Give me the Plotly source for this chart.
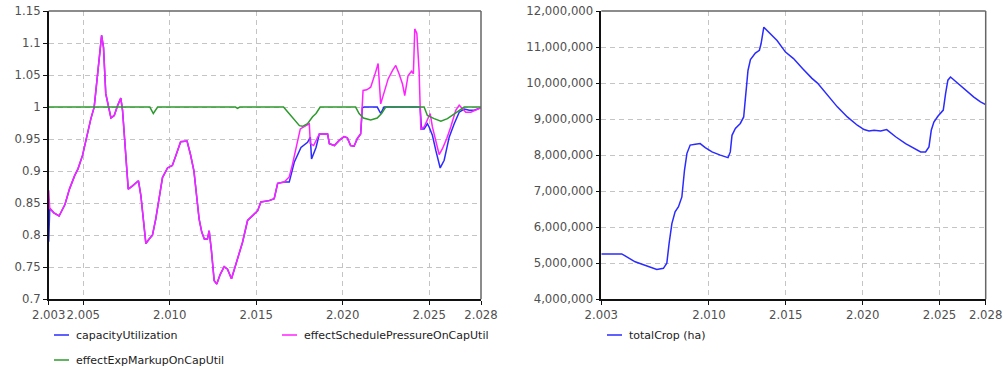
import plotly.graph_objects as go
from plotly.subplots import make_subplots

# --- data ---
# capacityUtilization and effectSchedulePressureOnCapUtil run together until ~2016.6
common_years = [2003.06, 2003.3, 2003.6, 2003.94, 2004.2, 2004.5, 2004.7, 2004.96, 2005.15, 2005.44,
                2005.63, 2005.83, 2006.06, 2006.17, 2006.3, 2006.6, 2006.79, 2006.98, 2007.17, 2007.27,
                2007.46, 2007.6, 2007.85, 2008.19, 2008.33, 2008.52, 2008.62, 2008.81, 2009.0, 2009.19,
                2009.38, 2009.58, 2009.87, 2010.15, 2010.35, 2010.63, 2011.0, 2011.2, 2011.4, 2011.55,
                2011.7, 2011.85, 2012.0, 2012.18, 2012.28, 2012.41, 2012.57, 2012.72, 2012.92, 2013.15,
                2013.34, 2013.57, 2013.82, 2014.21, 2014.5, 2014.79, 2015.08, 2015.27, 2015.75, 2016.04,
                2016.24, 2016.62]
common_vals = [0.842, 0.835, 0.83, 0.848, 0.872, 0.893, 0.904, 0.925, 0.948, 0.982,
               1.0, 1.057, 1.112, 1.093, 1.021, 0.983, 0.987, 1.002, 1.014, 0.995,
               0.925, 0.872, 0.877, 0.885, 0.862, 0.81, 0.787, 0.794, 0.80, 0.825,
               0.856, 0.89, 0.905, 0.909, 0.924, 0.946, 0.947, 0.926, 0.9, 0.86,
               0.825, 0.805, 0.794, 0.794, 0.807, 0.776, 0.729, 0.724, 0.739, 0.751,
               0.747, 0.732, 0.755, 0.789, 0.823, 0.831, 0.838, 0.852, 0.854, 0.857,
               0.881, 0.883]

cap_years = [2003.0] + common_years + [
    2016.91, 2017.2, 2017.59, 2017.97, 2018.13, 2018.2, 2018.46, 2018.65, 2019.13, 2019.23,
    2019.52, 2019.8, 2020.08, 2020.27, 2020.46, 2020.66, 2020.85, 2021.04, 2021.14, 2021.24,
    2022.0, 2022.2, 2022.39, 2024.48, 2024.56, 2024.71, 2024.9, 2025.0, 2025.19, 2025.39,
    2025.64, 2025.87, 2026.16, 2026.45, 2026.74, 2027.03, 2027.32, 2027.61, 2028.0]
cap_vals = [0.79] + common_vals + [
    0.883, 0.914, 0.937, 0.945, 0.953, 0.919, 0.937, 0.958, 0.958, 0.943,
    0.94, 0.948, 0.954, 0.952, 0.94, 0.939, 0.951, 0.958, 0.999, 1.0,
    1.0, 0.99, 1.0, 1.0, 0.966, 0.966, 0.974, 0.969, 0.956, 0.932,
    0.905, 0.917, 0.953, 0.974, 0.992, 0.997, 0.995, 0.995, 0.999]

sched_years = [2003.0] + common_years + [
    2016.91, 2017.1, 2017.3, 2017.55, 2017.88, 2018.07, 2018.13, 2018.32, 2018.65, 2019.13,
    2019.23, 2019.52, 2019.8, 2020.08, 2020.27, 2020.46, 2020.66, 2020.85, 2021.04, 2021.18,
    2021.39, 2021.62, 2021.91, 2022.05, 2022.2, 2022.43, 2022.63, 2022.88, 2023.07, 2023.26,
    2023.46, 2023.59, 2023.78, 2023.98, 2024.09, 2024.17, 2024.29, 2024.42, 2024.52, 2024.71,
    2024.9, 2025.06, 2025.19, 2025.39, 2025.58, 2025.77, 2026.02, 2026.25, 2026.54, 2026.74,
    2026.93, 2027.12, 2027.41, 2027.7, 2028.0]
sched_vals = [0.87] + common_vals + [
    0.891, 0.911, 0.937, 0.966, 0.971, 0.974, 0.943, 0.94, 0.958, 0.958,
    0.943, 0.94, 0.948, 0.954, 0.952, 0.94, 0.939, 0.951, 0.958, 1.026,
    1.027, 1.031, 1.055, 1.068, 1.005, 1.026, 1.044, 1.057, 1.065, 1.052,
    1.036, 1.018, 1.049, 1.056, 1.052, 1.122, 1.115, 1.057, 0.966, 0.969,
    0.979, 0.99, 0.969, 0.948, 0.926, 0.935, 0.951, 0.969, 0.995, 1.003,
    0.997, 0.992, 0.992, 0.995, 0.999]

markup_years = [2003.0, 2008.85, 2009.05, 2009.3, 2013.8, 2013.92, 2014.05, 2016.58, 2016.9, 2017.2,
                2017.5, 2017.68, 2017.97, 2018.26, 2018.46, 2018.7, 2020.75, 2020.95, 2021.2, 2021.62,
                2022.0, 2022.25, 2022.49, 2024.71, 2024.9, 2025.29, 2025.68, 2026.06, 2026.45, 2026.83,
                2027.03, 2028.0]
markup_vals = [1.0, 1.0, 0.99, 1.0, 1.0, 0.998, 1.0, 1.0, 0.99, 0.981,
               0.971, 0.97, 0.974, 0.985, 0.99, 1.0, 1.0, 0.99, 0.983, 0.98,
               0.983, 0.99, 1.0, 1.0, 0.987, 0.982, 0.978, 0.982, 0.989, 0.996,
               1.0, 1.0]

crop_years = [2003.0, 2004.33, 2005.2, 2006.07, 2006.61, 2007.04, 2007.26, 2007.41, 2007.59, 2007.8,
              2008.02, 2008.24, 2008.41, 2008.57, 2008.78, 2009.11, 2009.43, 2009.76, 2010.2, 2010.74,
              2011.24, 2011.39, 2011.5, 2011.72, 2012.04, 2012.26, 2012.41, 2012.54, 2012.7, 2013.02,
              2013.28, 2013.39, 2013.57, 2014.0, 2014.43, 2014.98, 2015.5, 2016.1, 2016.7, 2017.06,
              2017.71, 2018.35, 2019.0, 2019.65, 2020.09, 2020.41, 2020.74, 2021.17, 2021.56, 2022.14,
              2022.79, 2023.33, 2023.77, 2024.09, 2024.31, 2024.46, 2024.63, 2024.89, 2025.24, 2025.39,
              2025.54, 2025.71, 2026.15, 2026.69, 2027.23, 2027.66, 2028.0]
crop_vals = [5260000, 5260000, 5040000, 4920000, 4830000, 4860000, 5000000, 5550000, 6100000, 6430000,
             6570000, 6840000, 7580000, 8050000, 8280000, 8300000, 8320000, 8210000, 8090000, 8000000,
             7930000, 8090000, 8550000, 8740000, 8880000, 9060000, 9710000, 10350000, 10650000, 10830000,
             10910000, 11090000, 11550000, 11370000, 11180000, 10860000, 10680000, 10400000, 10130000, 10000000,
             9660000, 9340000, 9060000, 8830000, 8710000, 8670000, 8690000, 8670000, 8710000, 8510000,
             8320000, 8180000, 8090000, 8090000, 8230000, 8690000, 8920000, 9080000, 9250000, 9710000,
             10080000, 10170000, 10000000, 9800000, 9610000, 9480000, 9400000]

left_xticks = [2003, 2005, 2010, 2015, 2020, 2025, 2028]
right_xticks = [2003, 2010, 2015, 2020, 2025, 2028]
left_yticks = [0.7, 0.75, 0.8, 0.85, 0.9, 0.95, 1.0, 1.05, 1.1, 1.15]
left_ytext = ["0.7", "0.75", "0.8", "0.85", "0.9", "0.95", "1", "1.05", "1.1", "1.15"]

BLUE = "#2b2bff"
MAGENTA = "#ff22ff"
GREEN = "#2e9a2e"
FONT = "DejaVu Sans"

W, H = 1003, 369
# plot areas in window pixels
L_X0, L_X1 = 48.7, 481.0
R_X0, R_X1 = 601.3, 985.7
Y_TOP, Y_BOT = 11.0, 299.3


def px(x):
    return x / W


def py(y):
    return 1 - y / H


def year_label(y):
    return f"{y // 1000}.{y % 1000:03d}"


fig = make_subplots(rows=1, cols=2)

fig.add_trace(go.Scatter(x=cap_years, y=cap_vals, mode="lines", name="capacityUtilization",
                         line=dict(color=BLUE, width=1.5)), row=1, col=1)
fig.add_trace(go.Scatter(x=sched_years, y=sched_vals, mode="lines", name="effectSchedulePressureOnCapUtil",
                         line=dict(color=MAGENTA, width=1.5)), row=1, col=1)
fig.add_trace(go.Scatter(x=markup_years, y=markup_vals, mode="lines", name="effectExpMarkupOnCapUtil",
                         line=dict(color=GREEN, width=1.5)), row=1, col=1)
fig.add_trace(go.Scatter(x=crop_years, y=crop_vals, mode="lines", name="totalCrop (ha)",
                         line=dict(color=BLUE, width=1.5)), row=1, col=2)

axis_common = dict(
    showgrid=True, gridcolor="#c4c4c4", griddash="5px,4px", gridwidth=1,
    showline=True, linecolor="#111111", linewidth=1.5,
    ticks="outside", ticklen=4, tickcolor="#111111",
    tickfont=dict(family=FONT, size=11.7, color="#505050"),
    tickangle=0, ticklabeloverflow="allow",
    zeroline=False, automargin=False,
)

fig.update_xaxes(axis_common)
fig.update_yaxes(axis_common)

fig.update_xaxes(domain=[px(L_X0), px(L_X1)], range=[2003, 2028],
                 tickvals=left_xticks, ticktext=[year_label(t) for t in left_xticks], row=1, col=1)
fig.update_xaxes(domain=[px(R_X0), px(R_X1)], range=[2003, 2028],
                 tickvals=right_xticks, ticktext=[year_label(t) for t in right_xticks], row=1, col=2)
fig.update_yaxes(domain=[py(Y_BOT), py(Y_TOP)], range=[0.7, 1.15],
                 tickvals=left_yticks, ticktext=left_ytext, row=1, col=1)
fig.update_yaxes(domain=[py(Y_BOT), py(Y_TOP)], range=[4000000, 12000000],
                 dtick=1000000, tickformat=",d", row=1, col=2)

# grey top/right frame edges
shapes = []
for x0, x1 in [(L_X0, L_X1), (R_X0, R_X1)]:
    shapes.append(dict(type="line", xref="paper", yref="paper", x0=px(x0), x1=px(x1),
                       y0=py(Y_TOP), y1=py(Y_TOP), line=dict(color="#666666", width=1.5)))
    shapes.append(dict(type="line", xref="paper", yref="paper", x0=px(x1), x1=px(x1),
                       y0=py(Y_TOP), y1=py(Y_BOT), line=dict(color="#666666", width=1.5)))

# hand-placed legend rows (short line sample + label)
legend_items = [
    (54, 335, BLUE, "capacityUtilization"),
    (282, 335, MAGENTA, "effectSchedulePressureOnCapUtil"),
    (54, 360, GREEN, "effectExpMarkupOnCapUtil"),
    (607, 335, BLUE, "totalCrop (ha)"),
]
annotations = []
for lx, ly, col, label in legend_items:
    shapes.append(dict(type="line", xref="paper", yref="paper", x0=px(lx), x1=px(lx + 15),
                       y0=py(ly), y1=py(ly), line=dict(color=col, width=1.5)))
    annotations.append(dict(xref="paper", yref="paper", x=px(lx + 20), y=py(ly), text=label,
                            showarrow=False, xanchor="left", yanchor="middle",
                            font=dict(family=FONT, size=11, color="#222222")))

fig.update_layout(
    width=W, height=H,
    margin=dict(l=0, r=0, t=0, b=0),
    paper_bgcolor="white", plot_bgcolor="white",
    showlegend=False,
    shapes=shapes, annotations=annotations,
    font=dict(family=FONT),
)

# drop the default 8px body margin so the figure fills the window exactly
fig.write_html("out.html", config={"displayModeBar": False},
               post_script="document.body.style.margin = '0';")
